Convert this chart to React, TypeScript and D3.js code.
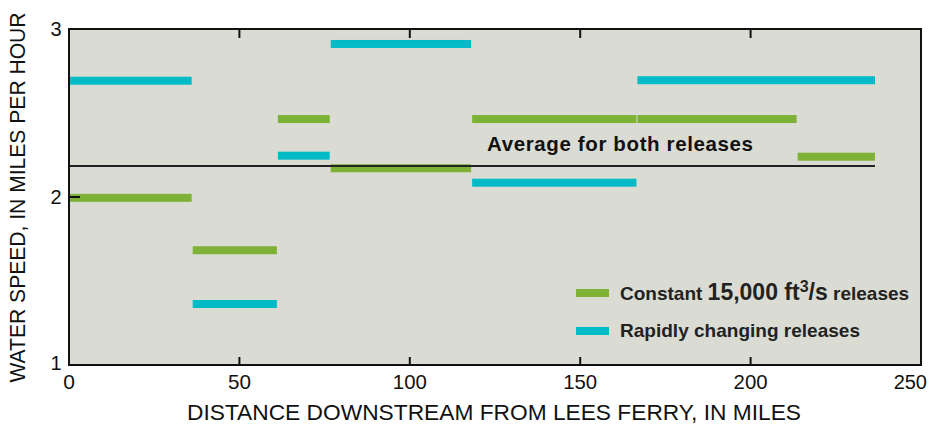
import React from "react";
import * as d3 from "d3";

const xTicks = [0, 50, 100, 150, 200, 250];
const yTicks = [1, 2, 3];
const innerXTicks = [50, 100, 150, 200];

// [start mile, end mile, speed mph]
const constantSegs: [number, number, number][] = [
  [0, 36, 1.995],
  [36, 61, 1.683],
  [61, 76.5, 2.464],
  [76.5, 118, 2.171],
  [118, 166.5, 2.464],
  [166.5, 213.5, 2.464],
  [213.5, 236.5, 2.24],
];
const rapidSegs: [number, number, number][] = [
  [0, 36, 2.692],
  [36, 61, 1.363],
  [61, 76.5, 2.246],
  [76.5, 118, 2.911],
  [118, 166.5, 2.085],
  [166.5, 236.5, 2.695],
];
const average: [number, number, number] = [0, 236.5, 2.185];

const GREEN = "#7db236";
const CYAN = "#03bbc7";
const BG = "#dadcd3";
const FONT = "Liberation Sans, Arial, sans-serif";

export default function App() {
  const W = 936, H = 425;
  const x = d3.scaleLinear().domain([0, 250]).range([69, 921]);
  const y = d3.scaleLinear().domain([1, 3]).range([365, 29]);
  const barH = 8;

  const seg = (s: [number, number, number], color: string, i: number, gap = 0) => (
    <rect key={color + i} x={x(s[0]) + gap} y={y(s[2]) - barH / 2}
      width={x(s[1]) - x(s[0]) - gap} height={barH} fill={color} />
  );

  return (
    <svg width={W} height={H} style={{ position: "absolute", left: 0, top: 0, background: "#fff" }}
      fontFamily={FONT}>
      <rect x={x(0)} y={y(3)} width={x(250) - x(0)} height={y(1) - y(3)} fill={BG} />
      {constantSegs.map((s, i) => seg(s, GREEN, i, i === 0 ? 0 : 1))}
      {rapidSegs.map((s, i) => seg(s, CYAN, i, i === 0 ? 0 : 1))}
      <line x1={x(average[0])} x2={x(average[1])} y1={y(average[2])} y2={y(average[2])}
        stroke="#222" strokeWidth={2} />
      <text x={487} y={151} fontSize={20.5} fontWeight="bold" fill="#111" textLength={266}>
        Average for both releases
      </text>
      {/* ticks */}
      {innerXTicks.map((t) => (
        <g key={"t" + t}>
          <line x1={x(t)} x2={x(t)} y1={y(1)} y2={y(1) - 8} stroke="#111" strokeWidth={2} />
          <line x1={x(t)} x2={x(t)} y1={y(3)} y2={y(3) + 9} stroke="#111" strokeWidth={2} />
        </g>
      ))}
      <line x1={x(0)} x2={x(0) + 11} y1={y(2)} y2={y(2)} stroke="#111" strokeWidth={2} />
      <rect x={x(0)} y={y(3)} width={x(250) - x(0)} height={y(1) - y(3)} fill="none"
        stroke="#111" strokeWidth={2} />
      {/* tick labels */}
      {xTicks.map((t) =>
        t === 250 ? (
          <text key={"xl" + t} x={x(t) + 6} y={388.5} fontSize={20} textAnchor="end" fill="#111">{t}</text>
        ) : (
          <text key={"xl" + t} x={x(t)} y={388.5} fontSize={21} textAnchor="middle" fill="#111"
            textLength={t === 0 ? undefined : t >= 100 ? 34 : 23}
            lengthAdjust="spacingAndGlyphs">{t}</text>
        )
      )}
      {yTicks.map((t) => (
        <text key={"yl" + t} x={61.5} y={y(t) + (t === 1 ? 5 : 7)} fontSize={20} textAnchor="end" fill="#111">{t}</text>
      ))}
      {/* axis titles */}
      <text x={494} y={420} fontSize={22} textAnchor="middle" fill="#111" textLength={614}
        lengthAdjust="spacingAndGlyphs">
        DISTANCE DOWNSTREAM FROM LEES FERRY, IN MILES
      </text>
      <text transform={`translate(25,197.5) rotate(-90)`} fontSize={22} textAnchor="middle" fill="#111"
        textLength={370} lengthAdjust="spacingAndGlyphs">
        WATER SPEED, IN MILES PER HOUR
      </text>
      {/* legend */}
      <rect x={576} y={289} width={33} height={8} fill={GREEN} />
      <text x={620} y={300} fontWeight="bold" fill="#222" fontSize={19}>
        Constant <tspan fontSize={23}>15,000 ft</tspan>
        <tspan fontSize={16} dy={-8}>3</tspan>
        <tspan fontSize={23} dy={8}>/s</tspan> releases
      </text>
      <rect x={576} y={327} width={33} height={8} fill={CYAN} />
      <text x={620} y={337} fontWeight="bold" fill="#222" fontSize={19} textLength={240}>
        Rapidly changing releases
      </text>
    </svg>
  );
}
